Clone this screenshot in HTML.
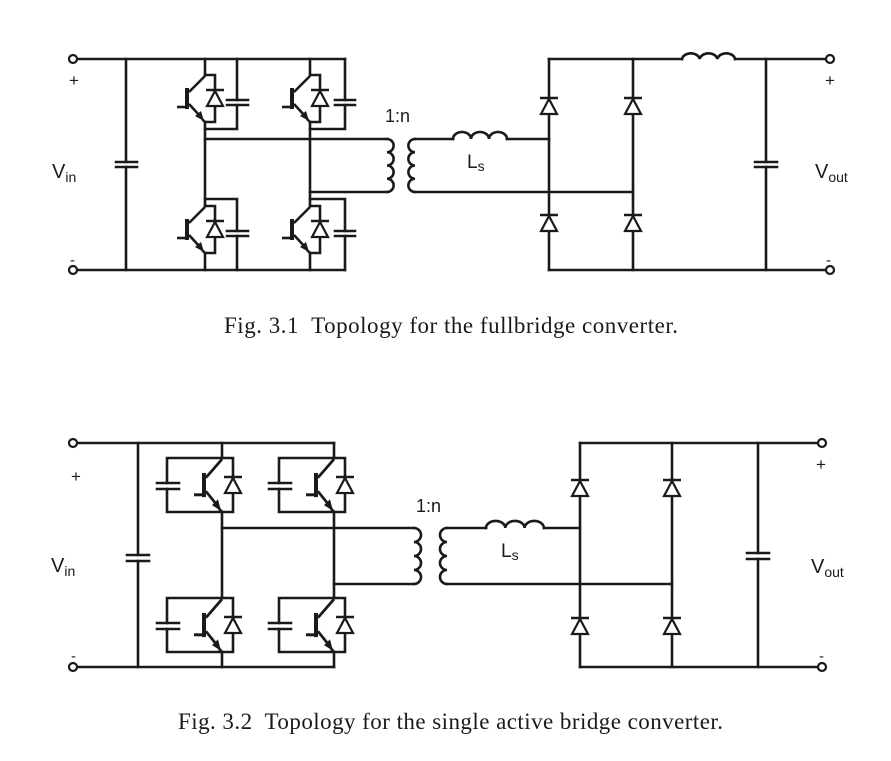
<!DOCTYPE html>
<html><head><meta charset="utf-8"><style>
html,body{margin:0;padding:0;background:#fff;}
svg{display:block;}
.w{fill:none;stroke:#1a1a1a;stroke-width:2.6;stroke-linecap:square;}
.t{font-family:"Liberation Sans",Arial,sans-serif;fill:#1a1a1a;}
.c{font-family:"Liberation Serif","Times New Roman",serif;fill:#1a1a1a;font-size:23px;}
</style></head><body>
<svg width="891" height="761" viewBox="0 0 891 761" xmlns="http://www.w3.org/2000/svg">
<defs>
  <g id="dio">
    <line x1="-9" y1="-8" x2="9" y2="-8" stroke="#1a1a1a" stroke-width="2.6"/>
    <polygon points="0,-7 -8,8 8,8" fill="#fff" stroke="#1a1a1a" stroke-width="2.2"/>
  </g>
  <g id="igbt">
    <rect x="-20" y="13" width="4" height="21" fill="#1a1a1a"/>
    <line x1="-28" y1="32" x2="-20" y2="32" stroke="#1a1a1a" stroke-width="2.6"/>
    <line x1="-16" y1="17" x2="0" y2="1" stroke="#1a1a1a" stroke-width="2.6"/>
    <line x1="-16" y1="29" x2="-5" y2="41" stroke="#1a1a1a" stroke-width="2.6"/>
    <polygon points="-1,46 -10,41 -4,36" fill="#1a1a1a"/>
    <line x1="-3" y1="44" x2="0" y2="47" stroke="#1a1a1a" stroke-width="2.6"/>
  </g>
</defs>

<g class="w">
  <line x1="77" y1="59" x2="345" y2="59"/>
  <line x1="77" y1="270" x2="345" y2="270"/>
  <line x1="126" y1="59" x2="126" y2="162"/>
  <line x1="126" y1="167" x2="126" y2="270"/>
  <line x1="116" y1="162" x2="137" y2="162"/>
  <line x1="116" y1="167" x2="137" y2="167"/>
  <line x1="205" y1="59" x2="205" y2="75"/>
  <polyline points="205,75 215,75 215,122 205,122"/>
  <line x1="205" y1="122" x2="205" y2="206"/>
  <polyline points="237,59 237,100"/><polyline points="237,105 237,129 205,129"/>
  <line x1="227" y1="100" x2="248" y2="100"/><line x1="227" y1="105" x2="248" y2="105"/>
  <polyline points="205,206 215,206 215,253 205,253"/>
  <line x1="205" y1="253" x2="205" y2="270"/>
  <polyline points="205,199 237,199 237,231"/><line x1="237" y1="236" x2="237" y2="270"/>
  <line x1="227" y1="231" x2="248" y2="231"/><line x1="227" y1="236" x2="248" y2="236"/>
  <line x1="310" y1="59" x2="310" y2="75"/>
  <polyline points="310,75 320,75 320,122 310,122"/>
  <line x1="310" y1="122" x2="310" y2="206"/>
  <polyline points="345,59 345,100"/><polyline points="345,105 345,129 310,129"/>
  <line x1="335" y1="100" x2="355" y2="100"/><line x1="335" y1="105" x2="355" y2="105"/>
  <polyline points="310,206 320,206 320,253 310,253"/>
  <line x1="310" y1="253" x2="310" y2="270"/>
  <polyline points="310,199 345,199 345,231"/><line x1="345" y1="236" x2="345" y2="270"/>
  <line x1="335" y1="231" x2="355" y2="231"/><line x1="335" y1="236" x2="355" y2="236"/>
  <line x1="205" y1="139" x2="387" y2="139"/>
  <line x1="310" y1="192" x2="387" y2="192"/>
  <path d="M387,139 a6.6,6.6 0 0 1 0,13.25 a6.6,6.6 0 0 1 0,13.25 a6.6,6.6 0 0 1 0,13.25 a6.6,6.6 0 0 1 0,13.25"/>
  <path d="M415,139 a6.6,6.6 0 0 0 0,13.25 a6.6,6.6 0 0 0 0,13.25 a6.6,6.6 0 0 0 0,13.25 a6.6,6.6 0 0 0 0,13.25"/>
  <line x1="415" y1="139" x2="453" y2="139"/>
  <path d="M453,139 a9,7 0 0 1 18,0 a9,7 0 0 1 18,0 a9,7 0 0 1 18,0"/>
  <line x1="507" y1="139" x2="549" y2="139"/>
  <line x1="415" y1="192" x2="633" y2="192"/>
  <line x1="549" y1="59" x2="549" y2="270"/>
  <line x1="633" y1="59" x2="633" y2="270"/>
  <line x1="549" y1="59" x2="682" y2="59"/>
  <path d="M682,59 a9,7 0 0 1 17.7,0 a9,7 0 0 1 17.7,0 a9,7 0 0 1 17.7,0"/>
  <line x1="735" y1="59" x2="826" y2="59"/>
  <line x1="549" y1="270" x2="826" y2="270"/>
  <line x1="766" y1="59" x2="766" y2="162"/><line x1="766" y1="167" x2="766" y2="270"/>
  <line x1="755" y1="162" x2="777" y2="162"/><line x1="755" y1="167" x2="777" y2="167"/>
</g>
<use href="#igbt" x="205" y="75"/>
<use href="#igbt" x="205" y="206"/>
<use href="#igbt" x="310" y="75"/>
<use href="#igbt" x="310" y="206"/>
<use href="#dio" x="215" y="98"/>
<use href="#dio" x="215" y="229"/>
<use href="#dio" x="320" y="98"/>
<use href="#dio" x="320" y="229"/>
<use href="#dio" x="549" y="106"/>
<use href="#dio" x="633" y="106"/>
<use href="#dio" x="549" y="223"/>
<use href="#dio" x="633" y="223"/>
<g fill="#fff" stroke="#1a1a1a" stroke-width="2.2">
  <circle cx="73" cy="59" r="4"/><circle cx="73" cy="270" r="4"/>
  <circle cx="830" cy="59" r="4"/><circle cx="830" cy="270" r="4"/>
</g>
<text class="t" x="69" y="86" font-size="17">+</text>
<text class="t" x="70" y="265" font-size="15">-</text>
<text class="t" x="825" y="86" font-size="17">+</text>
<text class="t" x="826" y="265" font-size="15">-</text>
<text class="t" x="52" y="178" font-size="20">V<tspan font-size="14" dy="4">in</tspan></text>
<text class="t" x="815" y="178" font-size="20">V<tspan font-size="14" dy="4">out</tspan></text>
<text class="t" x="385" y="122" font-size="18">1:n</text>
<text class="t" x="467" y="168" font-size="19">L<tspan font-size="14" dy="3">s</tspan></text>
<text class="c" x="224" y="333" textLength="454" lengthAdjust="spacing" xml:space="preserve">Fig. 3.1  Topology for the fullbridge converter.</text>

<g class="w">
  <line x1="77" y1="443" x2="334" y2="443"/>
  <line x1="77" y1="667" x2="334" y2="667"/>
  <line x1="138" y1="443" x2="138" y2="555"/><line x1="138" y1="561" x2="138" y2="667"/>
  <line x1="127" y1="555" x2="149" y2="555"/><line x1="127" y1="561" x2="149" y2="561"/>
  <line x1="222" y1="443" x2="222" y2="458"/>
  <polyline points="222,458 167,458 167,483"/><polyline points="167,489 167,512 233,512 233,458 222,458"/>
  <line x1="157" y1="483" x2="179" y2="483"/><line x1="157" y1="489" x2="179" y2="489"/>
  <line x1="222" y1="512" x2="222" y2="598"/>
  <polyline points="222,598 167,598 167,623"/><polyline points="167,629 167,652 233,652 233,598 222,598"/>
  <line x1="157" y1="623" x2="179" y2="623"/><line x1="157" y1="629" x2="179" y2="629"/>
  <line x1="222" y1="652" x2="222" y2="667"/>
  <line x1="334" y1="443" x2="334" y2="458"/>
  <polyline points="334,458 279,458 279,483"/><polyline points="279,489 279,512 345,512 345,458 334,458"/>
  <line x1="269" y1="483" x2="291" y2="483"/><line x1="269" y1="489" x2="291" y2="489"/>
  <line x1="334" y1="512" x2="334" y2="598"/>
  <polyline points="334,598 279,598 279,623"/><polyline points="279,629 279,652 345,652 345,598 334,598"/>
  <line x1="269" y1="623" x2="291" y2="623"/><line x1="269" y1="629" x2="291" y2="629"/>
  <line x1="334" y1="652" x2="334" y2="667"/>
  <line x1="222" y1="528" x2="414" y2="528"/>
  <line x1="334" y1="584" x2="414" y2="584"/>
  <path d="M414,528 a7,7 0 0 1 0,14 a7,7 0 0 1 0,14 a7,7 0 0 1 0,14 a7,7 0 0 1 0,14"/>
  <path d="M447,528 a7,7 0 0 0 0,14 a7,7 0 0 0 0,14 a7,7 0 0 0 0,14 a7,7 0 0 0 0,14"/>
  <line x1="447" y1="528" x2="486" y2="528"/>
  <path d="M486,528 a9.6,7 0 0 1 19.3,0 a9.6,7 0 0 1 19.3,0 a9.6,7 0 0 1 19.3,0"/>
  <line x1="544" y1="528" x2="580" y2="528"/>
  <line x1="447" y1="584" x2="672" y2="584"/>
  <line x1="580" y1="443" x2="580" y2="667"/>
  <line x1="672" y1="443" x2="672" y2="667"/>
  <line x1="580" y1="443" x2="818" y2="443"/>
  <line x1="580" y1="667" x2="818" y2="667"/>
  <line x1="758" y1="443" x2="758" y2="553"/><line x1="758" y1="559" x2="758" y2="667"/>
  <line x1="747" y1="553" x2="769" y2="553"/><line x1="747" y1="559" x2="769" y2="559"/>
</g>
<use href="#igbt" transform="translate(222,458) scale(1,1.15)"/>
<use href="#igbt" transform="translate(222,598) scale(1,1.15)"/>
<use href="#igbt" transform="translate(334,458) scale(1,1.15)"/>
<use href="#igbt" transform="translate(334,598) scale(1,1.15)"/>
<use href="#dio" x="233" y="485"/>
<use href="#dio" x="233" y="625"/>
<use href="#dio" x="345" y="485"/>
<use href="#dio" x="345" y="625"/>
<use href="#dio" x="580" y="488"/>
<use href="#dio" x="672" y="488"/>
<use href="#dio" x="580" y="626"/>
<use href="#dio" x="672" y="626"/>
<g fill="#fff" stroke="#1a1a1a" stroke-width="2.2">
  <circle cx="73" cy="443" r="4"/><circle cx="73" cy="667" r="4"/>
  <circle cx="822" cy="443" r="4"/><circle cx="822" cy="667" r="4"/>
</g>
<text class="t" x="71" y="482" font-size="17">+</text>
<text class="t" x="71" y="661" font-size="15">-</text>
<text class="t" x="816" y="470" font-size="17">+</text>
<text class="t" x="819" y="661" font-size="15">-</text>
<text class="t" x="51" y="572" font-size="20">V<tspan font-size="14" dy="4">in</tspan></text>
<text class="t" x="811" y="573" font-size="20">V<tspan font-size="14" dy="4">out</tspan></text>
<text class="t" x="416" y="512" font-size="18">1:n</text>
<text class="t" x="501" y="557" font-size="19">L<tspan font-size="14" dy="3">s</tspan></text>
<text class="c" x="178" y="729" textLength="545" lengthAdjust="spacing" xml:space="preserve">Fig. 3.2  Topology for the single active bridge converter.</text>
</svg>
</body></html>
